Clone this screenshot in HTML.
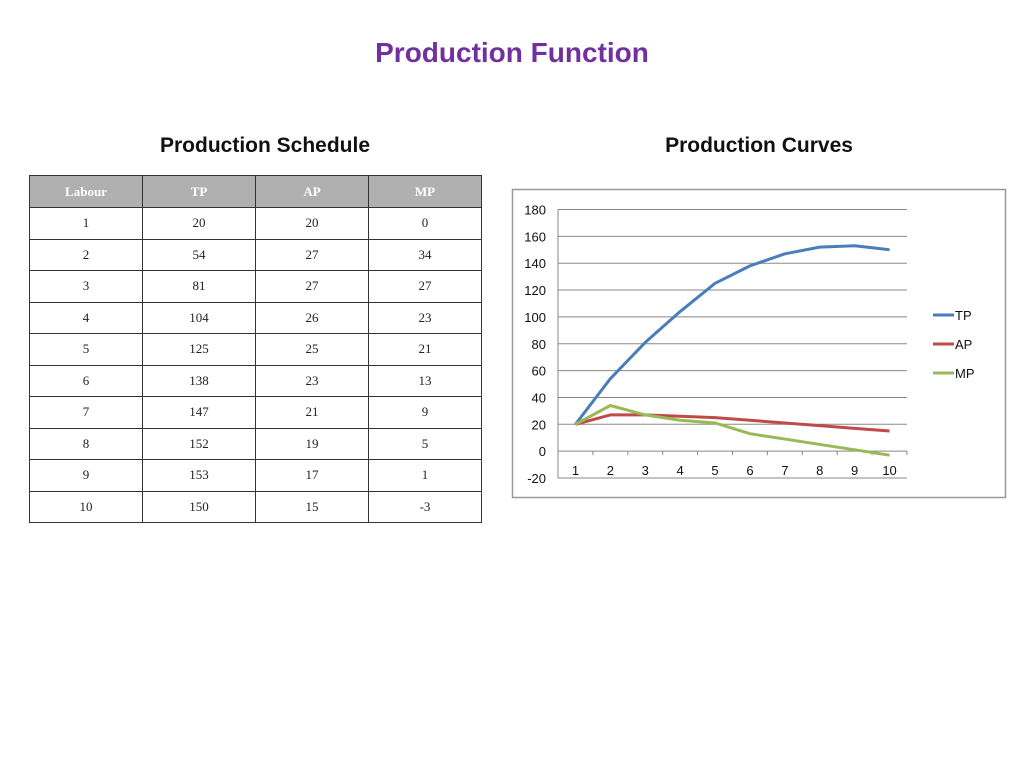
<!DOCTYPE html>
<html><head><meta charset="utf-8"><style>
body{margin:0;width:1024px;height:767px;background:#fff;position:relative;overflow:hidden;font-family:"Liberation Sans",sans-serif}
.t{position:absolute;font-weight:bold;text-align:center;white-space:nowrap}
table{position:absolute;left:29px;top:175px;border-collapse:collapse;font-family:"Liberation Serif",serif;font-size:13px;color:#222}
td,th{border:1.5px solid #333;width:112px;text-align:center;padding:0;height:30.5px}
th{background:#b0b0b0;color:#fff;height:31px;font-size:13px}
</style></head><body>
<div class="t" style="left:0;width:1024px;top:37px;font-size:28px;color:#7030a0">Production Function</div>
<div class="t" style="left:115px;width:300px;top:134px;font-size:21px;color:#111">Production Schedule</div>
<div class="t" style="left:609px;width:300px;top:134px;font-size:21px;color:#111">Production Curves</div>
<table>
<tr><th>Labour</th><th>TP</th><th>AP</th><th>MP</th></tr>
<tr><td>1</td><td>20</td><td>20</td><td>0</td></tr>
<tr><td>2</td><td>54</td><td>27</td><td>34</td></tr>
<tr><td>3</td><td>81</td><td>27</td><td>27</td></tr>
<tr><td>4</td><td>104</td><td>26</td><td>23</td></tr>
<tr><td>5</td><td>125</td><td>25</td><td>21</td></tr>
<tr><td>6</td><td>138</td><td>23</td><td>13</td></tr>
<tr><td>7</td><td>147</td><td>21</td><td>9</td></tr>
<tr><td>8</td><td>152</td><td>19</td><td>5</td></tr>
<tr><td>9</td><td>153</td><td>17</td><td>1</td></tr>
<tr><td>10</td><td>150</td><td>15</td><td>-3</td></tr>
</table>
<svg id="chart" width="1024" height="767" style="position:absolute;left:0;top:0">
<rect x="512.5" y="189.5" width="493" height="308" fill="#fff" stroke="#999" stroke-width="1.5"/>
</svg>
<script>
const categories=[1,2,3,4,5,6,7,8,9,10];
const tpValues=[20,54,81,104,125,138,147,152,153,150];
const apValues=[20,27,27,26,25,23,21,19,17,15];
const mpValues=[20,34,27,23,21,13,9,5,1,-3];
const yTicks=[-20,0,20,40,60,80,100,120,140,160,180];
const svg=document.getElementById('chart');const NS='http://www.w3.org/2000/svg';
const PL=558,PR=907,yMin=-20,yMax=180,PT=209.5,PB=478;
const xs=i=>PL+(PR-PL)/categories.length*(i+0.5);
const ys=v=>PB-(v-yMin)/(yMax-yMin)*(PB-PT);
function mk(t,a){const e=document.createElementNS(NS,t);for(const k in a)e.setAttribute(k,a[k]);svg.appendChild(e);return e;}
yTicks.forEach(v=>{
 const g=mk('line',{x1:PL,x2:PR,y1:ys(v),y2:ys(v),stroke:'#888','stroke-width':1});
 
 
 const t=mk('text',{x:PL-12,y:ys(v)+5,'text-anchor':'end','font-size':13,fill:'#111','font-family':'Liberation Sans, sans-serif'});
 t.textContent=v;
 
 
});
const ax=mk('line',{x1:PL,x2:PL,y1:PT,y2:PB,stroke:'#888'});


categories.forEach((c,i)=>{
 const t=mk('text',{x:xs(i),y:ys(0)+24,'text-anchor':'middle','font-size':13,fill:'#111','font-family':'Liberation Sans, sans-serif'});
 t.textContent=c;
 
 
 const tx=PL+(PR-PL)/categories.length*(i+1);
 const tk=mk('line',{x1:tx,x2:tx,y1:ys(0),y2:ys(0)+4,stroke:'#888'});
 
 
});
const series=[['TP',tpValues,'#4a7ebb'],['AP',apValues,'#be4b48'],['MP',mpValues,'#98b954']];
series.forEach(([n,vals,col],k)=>{
 const p=mk('polyline',{points:vals.map((v,i)=>xs(i)+','+ys(v)).join(' '),fill:'none',stroke:col,'stroke-width':3,'stroke-linejoin':'round'});
 
 
 const ly=315+k*29;
 const ll=mk('line',{x1:933,x2:954,y1:ly,y2:ly,stroke:col,'stroke-width':3});
 
 
 const lt=mk('text',{x:955,y:ly+5,'font-size':13,fill:'#111','font-family':'Liberation Sans, sans-serif'});
 lt.textContent=n;
 
 
});
</script>
</body></html>
